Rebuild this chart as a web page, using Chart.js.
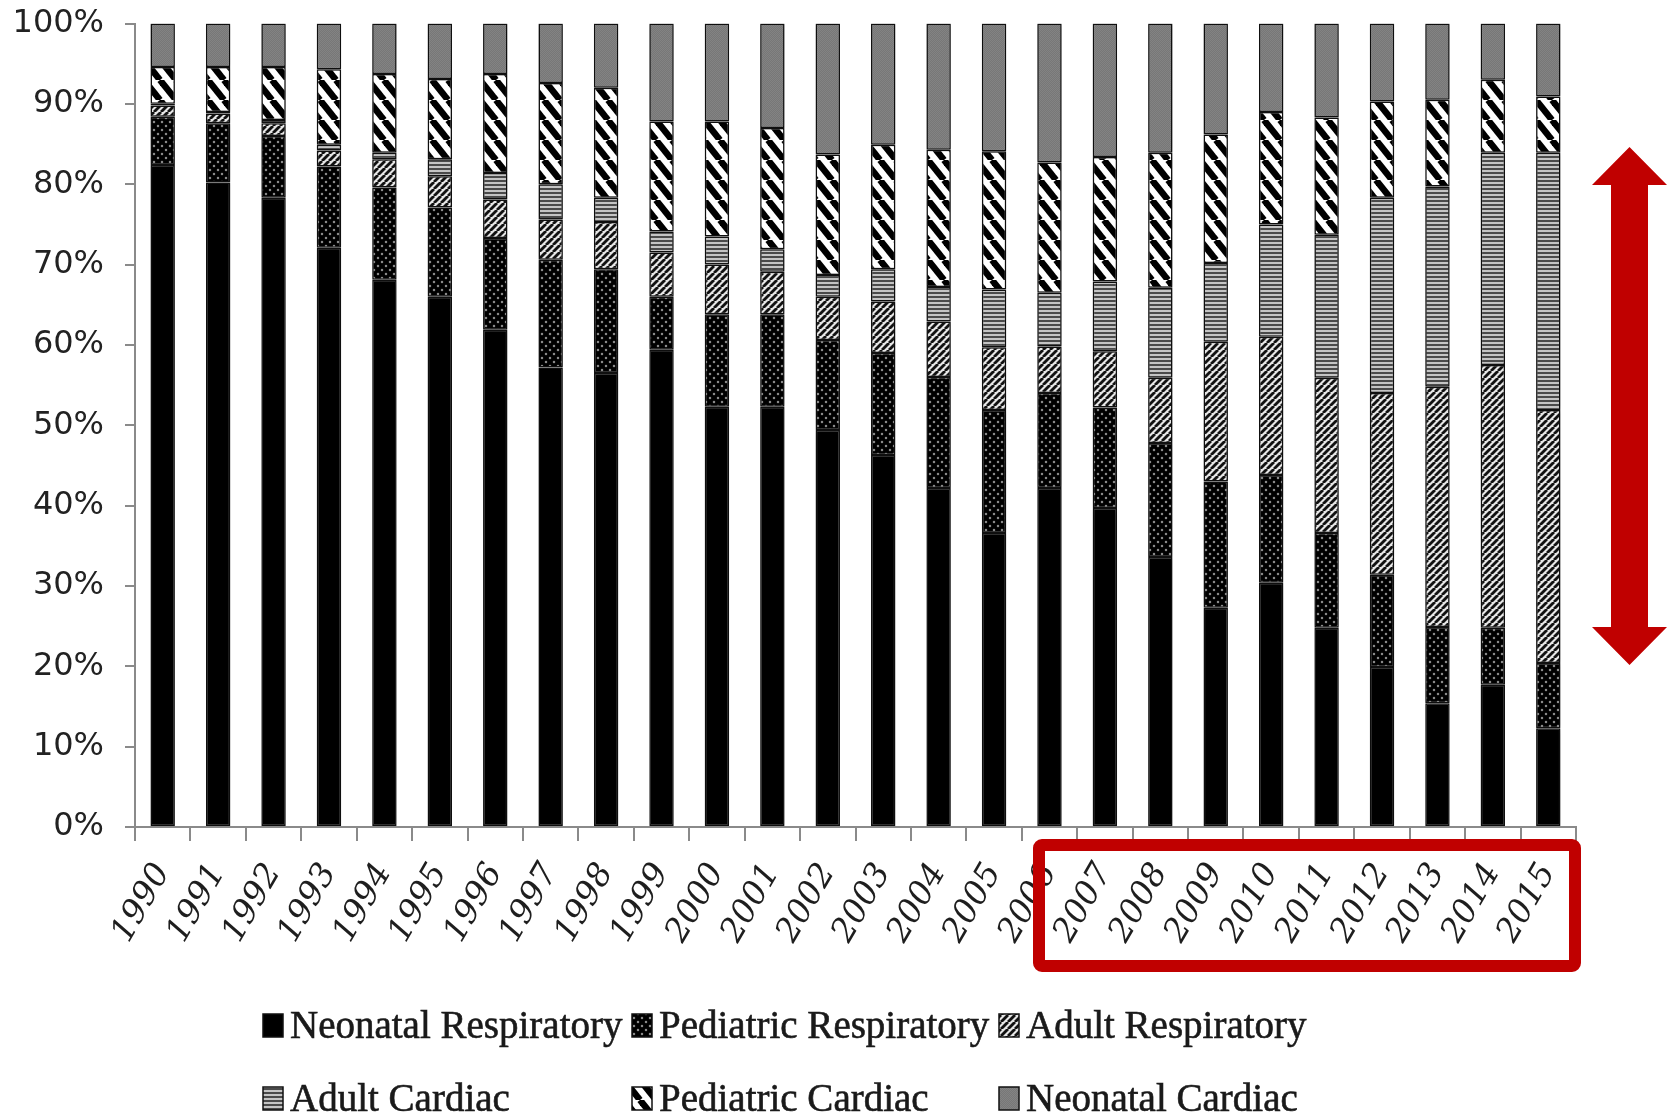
<!DOCTYPE html>
<html>
<head>
<meta charset="utf-8">
<title>ECMO runs by category, 1990–2015</title>
<script src="https://cdn.jsdelivr.net/npm/chart.js@4.4.1/dist/chart.umd.min.js"></script>
<style>
  html, body { margin: 0; padding: 0; background: #ffffff; }
  #wrap { width: 1667px; height: 1120px; position: relative; }
</style>
</head>
<body>
<div id="wrap"><canvas id="chart" width="1667" height="1120"></canvas></div>
<script>
// ---- data (share of runs per year, %) ----
const years = ['1990','1991','1992','1993','1994','1995','1996','1997','1998','1999',
               '2000','2001','2002','2003','2004','2005','2006','2007','2008','2009',
               '2010','2011','2012','2013','2014','2015'];

const neonatalRespiratory  = [82.4, 80.2, 78.3, 72.1, 68.1, 66.0, 61.9, 57.2, 56.5, 59.4,
                              52.3, 52.3, 49.4, 46.3, 42.2, 36.6, 42.2, 39.7, 33.6, 27.3,
                              30.4, 24.8, 19.9, 15.4, 17.7, 12.3];
const pediatricRespiratory = [6.0, 7.4, 7.7, 10.1, 11.5, 11.1, 11.4, 13.4, 12.9, 6.6,
                              11.5, 11.5, 11.2, 12.7, 13.8, 15.3, 11.8, 12.5, 14.2, 15.7,
                              13.4, 11.8, 11.5, 9.5, 7.1, 8.1];
const adultRespiratory     = [1.4, 1.2, 1.6, 2.0, 3.5, 3.9, 4.8, 5.0, 5.9, 5.5,
                              6.2, 5.3, 5.4, 6.4, 6.9, 7.8, 5.8, 7.0, 8.1, 17.4,
                              17.2, 19.3, 22.6, 29.9, 32.7, 31.5];
const adultCardiac         = [0.2, 0.2, 0.4, 0.7, 0.8, 2.1, 3.3, 4.4, 3.0, 2.6,
                              3.5, 2.8, 2.7, 4.0, 4.3, 7.2, 6.7, 8.7, 11.2, 9.8,
                              14.0, 17.8, 24.3, 24.9, 26.4, 32.0];
const pediatricCardiac     = [4.6, 5.6, 6.6, 9.4, 9.8, 10.0, 12.3, 12.6, 13.7, 13.7,
                              14.3, 15.1, 15.0, 15.5, 17.1, 17.2, 16.2, 15.5, 16.8, 16.0,
                              14.0, 14.6, 12.0, 10.8, 9.1, 7.0];
const neonatalCardiac      = [5.4, 5.4, 5.4, 5.7, 6.3, 6.9, 6.3, 7.4, 8.0, 12.2,
                              12.2, 13.0, 16.3, 15.1, 15.7, 15.9, 17.3, 16.6, 16.1, 13.8,
                              11.0, 11.7, 9.7, 9.5, 7.0, 9.1];

const seriesNames = ['Neonatal Respiratory', 'Pediatric Respiratory', 'Adult Respiratory',
                     'Adult Cardiac', 'Pediatric Cardiac', 'Neonatal Cardiac'];
const yTicks = [0, 10, 20, 30, 40, 50, 60, 70, 80, 90, 100];

// ---- fill patterns ----
const canvas = document.getElementById('chart');
const mainCtx = canvas.getContext('2d');

function makePattern(w, h, paint) {
  const c = document.createElement('canvas');
  c.width = w; c.height = h;
  const g = c.getContext('2d');
  paint(g, w, h);
  return mainCtx.createPattern(c, 'repeat');
}

const fillSolidBlack = '#000000';

const fillDots = makePattern(8, 8, (g, w, h) => {
  g.fillStyle = '#000'; g.fillRect(0, 0, w, h);
  g.fillStyle = '#8a8a8a';
  [[2, 2], [6, 6]].forEach(([x, y]) => { g.beginPath(); g.arc(x, y, 1.25, 0, Math.PI * 2); g.fill(); });
});

const fillFineDiag = makePattern(7, 7, (g, w, h) => {
  g.fillStyle = '#e6e6e6'; g.fillRect(0, 0, w, h);
  g.strokeStyle = '#111'; g.lineWidth = 2.8;
  for (let k = -1; k <= 1; k++) {
    g.beginPath(); g.moveTo(k * w, h); g.lineTo(k * w + w, 0); g.stroke();
  }
});

const fillHLines = makePattern(4, 4, (g, w, h) => {
  g.fillStyle = '#c4c4c4'; g.fillRect(0, 0, w, h);
  g.fillStyle = '#4a4a4a'; g.fillRect(0, 0, w, 2);
});

const fillWideDiag = makePattern(16, 20, (g, w, h) => {
  g.fillStyle = '#ffffff'; g.fillRect(0, 0, w, h);
  g.strokeStyle = '#000'; g.lineWidth = 6.5;
  for (let k = -1; k <= 1; k++) {
    g.beginPath(); g.moveTo(k * w, 0); g.lineTo(k * w + w, h); g.stroke();
  }
});

const fillGray = makePattern(2, 2, (g) => {
  g.fillStyle = '#777777'; g.fillRect(0, 0, 2, 2);
  g.fillStyle = '#838383'; g.fillRect(0, 0, 1, 1); g.fillRect(1, 1, 1, 1);
});

const seriesFills = [fillSolidBlack, fillDots, fillFineDiag, fillHLines, fillWideDiag, fillGray];
const seriesValues = [neonatalRespiratory, pediatricRespiratory, adultRespiratory,
                      adultCardiac, pediatricCardiac, neonatalCardiac];

// ---- soft halo round the bars ----
const barHalo = {
  id: 'barHalo',
  beforeDatasetsDraw(chart) {
    const ctx = chart.ctx;
    ctx.save();
    ctx.shadowColor = 'rgba(0,0,0,0.4)';
    ctx.shadowBlur = 5;
  },
  afterDatasetsDraw(chart) { chart.ctx.restore(); }
};

// ---- two-row legend on fixed columns ----
const gridLegend = {
  id: 'gridLegend',
  afterDraw(chart) {
    const ctx = chart.ctx;
    const cols = [263, 632, 999];
    const rows = [1038, 1111];
    ctx.save();
    ctx.font = '39px "Liberation Serif"';
    ctx.textBaseline = 'alphabetic';
    seriesNames.forEach((name, i) => {
      const x = cols[i % 3];
      const y = rows[Math.floor(i / 3)];
      ctx.fillStyle = seriesFills[i];
      ctx.fillRect(x, y - 24, 20, 23);
      ctx.strokeStyle = '#111';
      ctx.lineWidth = 1.5;
      ctx.strokeRect(x, y - 24, 20, 23);
      ctx.fillStyle = '#1a1a1a';
      ctx.strokeStyle = '#1a1a1a';
      ctx.lineWidth = 0.6;
      ctx.fillText(name, x + 27, y);
      ctx.strokeText(name, x + 27, y);
    });
    ctx.restore();
  }
};

// ---- red highlight: double arrow and box round the recent years ----
const highlight = {
  id: 'highlight',
  afterDraw(chart) {
    const ctx = chart.ctx;
    ctx.save();
    ctx.fillStyle = '#c00000';
    ctx.strokeStyle = '#c00000';
    const cx = 1629.5, half = 37.5, shaft = 18.5;
    const top = 147, headTop = 185, headBottom = 627, bottom = 665;
    ctx.beginPath();
    ctx.moveTo(cx, top);
    ctx.lineTo(cx + half, headTop);
    ctx.lineTo(cx + shaft, headTop);
    ctx.lineTo(cx + shaft, headBottom);
    ctx.lineTo(cx + half, headBottom);
    ctx.lineTo(cx, bottom);
    ctx.lineTo(cx - half, headBottom);
    ctx.lineTo(cx - shaft, headBottom);
    ctx.lineTo(cx - shaft, headTop);
    ctx.lineTo(cx - half, headTop);
    ctx.closePath();
    ctx.fill();

    ctx.lineWidth = 12;
    ctx.lineJoin = 'round';
    ctx.beginPath();
    ctx.roundRect(1039, 845, 536, 121, 3);
    ctx.stroke();
    ctx.restore();
  }
};

const axisGray = '#8a8a8a';

new Chart(mainCtx, {
  type: 'bar',
  data: {
    labels: years,
    datasets: seriesNames.map((name, i) => ({
      label: name,
      data: seriesValues[i],
      backgroundColor: seriesFills[i],
      borderColor: '#111',
      borderWidth: 1.5,
      borderSkipped: false,
      categoryPercentage: 1.0,
      barPercentage: 0.44
    }))
  },
  options: {
    responsive: false,
    devicePixelRatio: 1,
    animation: false,
    layout: { padding: { left: 0, right: 91, top: 23.5, bottom: 0 } },
    plugins: {
      legend: { display: false },
      tooltip: { enabled: false }
    },
    scales: {
      x: {
        stacked: true,
        afterFit(scale) { scale.height = 293; },
        grid: {
          display: true, offset: true, drawOnChartArea: false, drawTicks: true,
          tickLength: 14, color: axisGray, lineWidth: 2
        },
        border: { display: true, color: axisGray, width: 2 },
        ticks: {
          color: '#1e1e1e',
          font: { family: '"DejaVu Serif"', style: 'italic', size: 33 },
          minRotation: 60, maxRotation: 60, autoSkip: false, padding: 16
        }
      },
      y: {
        stacked: true,
        min: 0, max: 100,
        afterFit(scale) {
          scale.width = 135;
          scale.paddingTop = 0;
          scale.paddingBottom = 0;
        },
        afterBuildTicks(scale) { scale.ticks = yTicks.map(v => ({ value: v })); },
        grid: {
          display: true, drawOnChartArea: false, drawTicks: true,
          tickLength: 10, color: axisGray, lineWidth: 2
        },
        border: { display: true, color: axisGray, width: 2 },
        ticks: {
          color: '#222',
          font: { family: '"DejaVu Sans"', size: 32 },
          padding: 21,
          callback: v => v + '%'
        }
      }
    }
  },
  plugins: [barHalo, gridLegend, highlight]
});
</script>
</body>
</html>
